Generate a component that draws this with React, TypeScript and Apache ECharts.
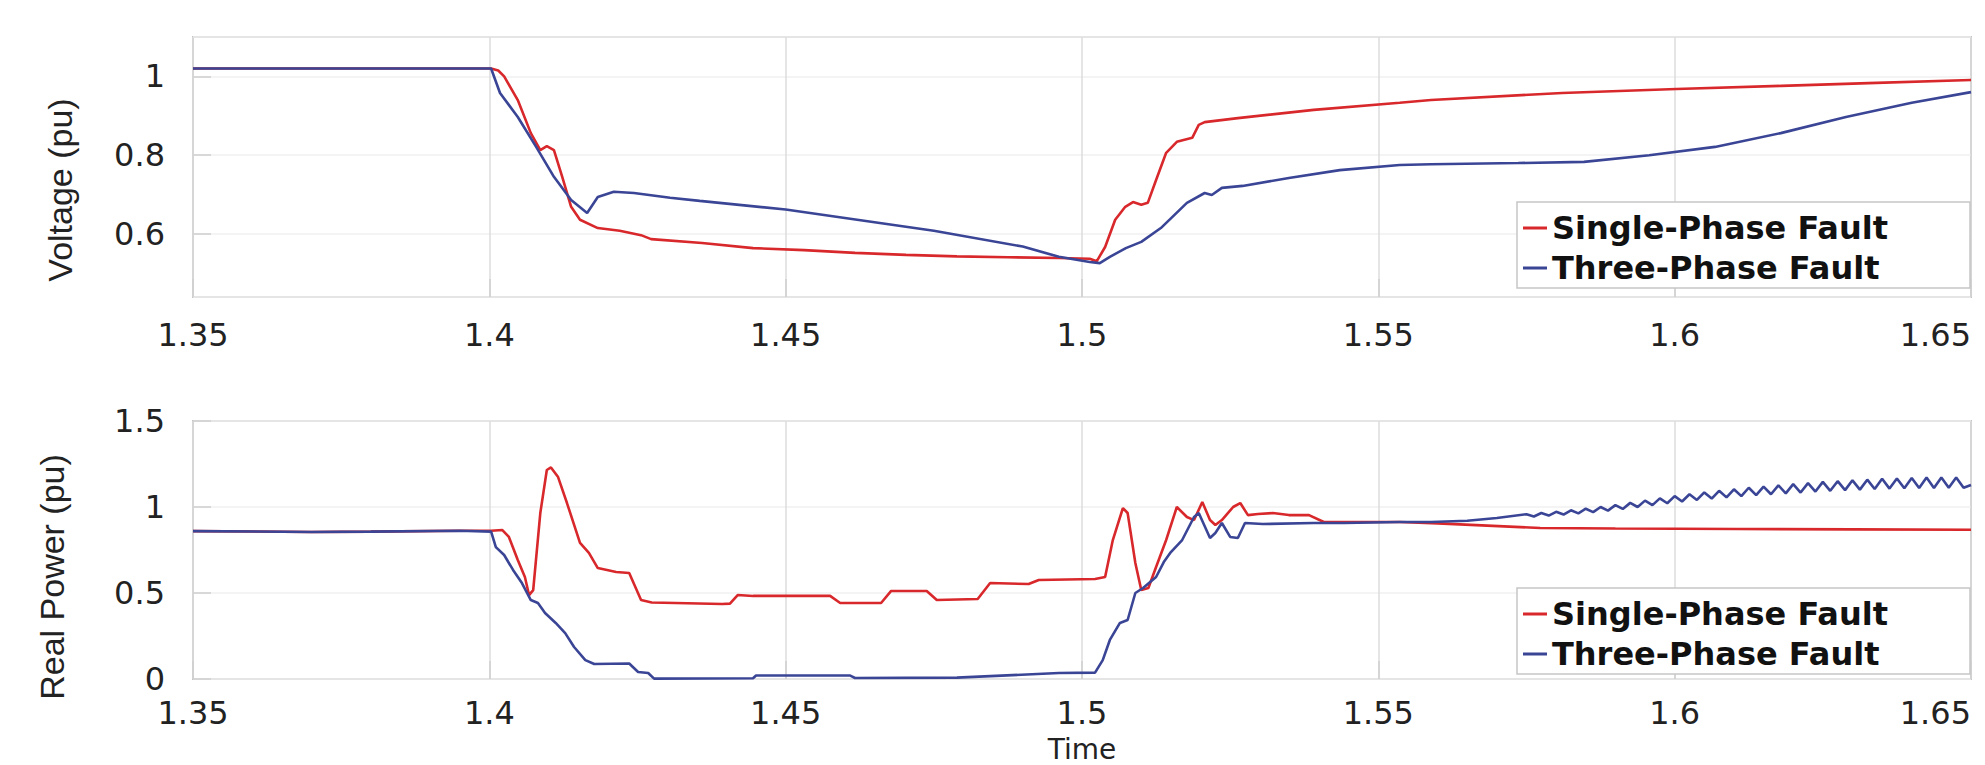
import React, { useEffect, useRef } from "react";
import * as echarts from "echarts";

const seriesNames = ["Single-Phase Fault", "Three-Phase Fault"];
const seriesColors = ["#d8282b", "#3a4596"];

// Voltage (pu) vs Time
const voltageSingle: [number, number][] = [
  [1.35, 1.02], [1.4003, 1.02], [1.4015, 1.015], [1.4025, 1.0], [1.4048, 0.94], [1.407, 0.856],
  [1.4086, 0.813], [1.4097, 0.823], [1.4109, 0.813], [1.4123, 0.745], [1.4138, 0.669], [1.4153, 0.636],
  [1.4183, 0.615], [1.422, 0.608], [1.4256, 0.597], [1.4273, 0.587], [1.4359, 0.577], [1.4445, 0.564],
  [1.4531, 0.559], [1.4617, 0.552], [1.4703, 0.547], [1.4789, 0.543], [1.4875, 0.541], [1.4961, 0.539],
  [1.5013, 0.537], [1.5025, 0.531], [1.5039, 0.567], [1.5056, 0.636], [1.5073, 0.669], [1.5086, 0.681],
  [1.51, 0.674], [1.5111, 0.679], [1.5125, 0.737], [1.5142, 0.806], [1.516, 0.834], [1.5186, 0.844],
  [1.5197, 0.877], [1.5207, 0.884], [1.5263, 0.894], [1.5391, 0.915], [1.5536, 0.933], [1.5589, 0.94],
  [1.581, 0.958], [1.6003, 0.968], [1.618, 0.976], [1.6327, 0.983], [1.65, 0.991],
];

const voltageThree: [number, number][] = [
  [1.35, 1.02], [1.4003, 1.02], [1.4018, 0.958], [1.4048, 0.897], [1.4079, 0.821], [1.4109, 0.745],
  [1.4138, 0.686], [1.4165, 0.653], [1.4183, 0.694], [1.421, 0.707], [1.4244, 0.704], [1.4305, 0.692],
  [1.4355, 0.684], [1.45, 0.662], [1.475, 0.608], [1.49, 0.568], [1.4961, 0.542], [1.5013, 0.529],
  [1.503, 0.526], [1.5047, 0.542], [1.5074, 0.564], [1.51, 0.58], [1.5133, 0.615], [1.5177, 0.679],
  [1.5207, 0.704], [1.5219, 0.699], [1.5236, 0.717], [1.5271, 0.722], [1.5349, 0.742], [1.5435, 0.762],
  [1.5536, 0.775], [1.5589, 0.777], [1.5736, 0.78], [1.5847, 0.783], [1.5957, 0.8], [1.6068, 0.821],
  [1.6179, 0.856], [1.6289, 0.897], [1.64, 0.933], [1.65, 0.96],
];

// Real Power (pu) vs Time
const powerSingle: [number, number][] = [
  [1.35, 0.86], [1.37, 0.855], [1.38, 0.857], [1.395, 0.862], [1.4003, 0.862], [1.4022, 0.866],
  [1.4033, 0.826], [1.4048, 0.692], [1.406, 0.593], [1.4067, 0.488], [1.4074, 0.517], [1.4086, 0.965],
  [1.4097, 1.215], [1.4104, 1.23], [1.4116, 1.174], [1.4131, 1.023], [1.4153, 0.791], [1.4168, 0.733],
  [1.4183, 0.645], [1.4214, 0.622], [1.4236, 0.616], [1.4256, 0.459], [1.4274, 0.445], [1.4393, 0.436],
  [1.4406, 0.438], [1.4419, 0.488], [1.4445, 0.483], [1.4575, 0.483], [1.4592, 0.442], [1.4661, 0.442],
  [1.4678, 0.512], [1.4738, 0.512], [1.4755, 0.459], [1.4824, 0.465], [1.4845, 0.558], [1.491, 0.552],
  [1.4927, 0.576], [1.5022, 0.581], [1.5039, 0.593], [1.5052, 0.808], [1.5069, 0.994], [1.5077, 0.965],
  [1.509, 0.674], [1.51, 0.517], [1.5112, 0.529], [1.5125, 0.651], [1.5142, 0.808], [1.516, 1.0],
  [1.5177, 0.942], [1.5189, 0.924], [1.5203, 1.029], [1.5216, 0.924], [1.5225, 0.895], [1.5236, 0.924],
  [1.5255, 1.0], [1.5267, 1.023], [1.528, 0.953], [1.5297, 0.959], [1.5322, 0.965], [1.5349, 0.953],
  [1.5383, 0.953], [1.5408, 0.913], [1.5536, 0.913], [1.56, 0.905], [1.5773, 0.878], [1.59, 0.875],
  [1.6105, 0.872], [1.63, 0.87], [1.65, 0.868],
];

const powerThree: [number, number][] = [
  [1.35, 0.86], [1.37, 0.855], [1.38, 0.857], [1.395, 0.862], [1.4003, 0.857], [1.4011, 0.767],
  [1.4025, 0.721], [1.404, 0.634], [1.4055, 0.558], [1.407, 0.459], [1.4082, 0.442], [1.4094, 0.384],
  [1.4112, 0.326], [1.4128, 0.267], [1.4143, 0.186], [1.4162, 0.11], [1.4177, 0.087], [1.4236, 0.09],
  [1.4251, 0.041], [1.4268, 0.035], [1.4278, 0.002], [1.4445, 0.004], [1.445, 0.02], [1.4609, 0.02],
  [1.4617, 0.006], [1.4789, 0.008], [1.4961, 0.035], [1.5022, 0.037], [1.5035, 0.11], [1.5047, 0.227],
  [1.5064, 0.326], [1.5077, 0.343], [1.509, 0.5], [1.5103, 0.529], [1.5125, 0.593], [1.5138, 0.68],
  [1.515, 0.738], [1.5169, 0.808], [1.5189, 0.942], [1.5197, 0.965], [1.5216, 0.82], [1.5225, 0.849],
  [1.5236, 0.907], [1.525, 0.826], [1.5263, 0.82], [1.5275, 0.907], [1.5305, 0.901], [1.5391, 0.907],
  [1.5442, 0.907], [1.5536, 0.913], [1.5589, 0.913], [1.565, 0.92], [1.57, 0.936],
  [1.575, 0.958], [1.57625, 0.945], [1.5775, 0.965], [1.57875, 0.95], [1.58, 0.972], [1.58125, 0.956],
  [1.5825, 0.981], [1.58375, 0.963], [1.585, 0.99], [1.58625, 0.97], [1.5875, 1.0], [1.58875, 0.979],
  [1.59, 1.011], [1.59125, 0.989], [1.5925, 1.024], [1.59375, 1.0], [1.595, 1.037], [1.59625, 1.011],
  [1.5975, 1.05], [1.59875, 1.022], [1.6, 1.063], [1.60125, 1.032], [1.6025, 1.074], [1.60375, 1.041],
  [1.605, 1.085], [1.60625, 1.049], [1.6075, 1.094], [1.60875, 1.056], [1.61, 1.103], [1.61125, 1.063],
  [1.6125, 1.112], [1.61375, 1.069], [1.615, 1.119], [1.61625, 1.074], [1.6175, 1.126], [1.61875, 1.079],
  [1.62, 1.133], [1.62125, 1.084], [1.6225, 1.139], [1.62375, 1.09], [1.625, 1.146], [1.62625, 1.094],
  [1.6275, 1.15], [1.62875, 1.098], [1.63, 1.155], [1.63125, 1.101], [1.6325, 1.159], [1.63375, 1.105],
  [1.635, 1.164], [1.63625, 1.107], [1.6375, 1.166], [1.63875, 1.109], [1.64, 1.169], [1.64125, 1.11],
  [1.6425, 1.171], [1.64375, 1.111], [1.645, 1.172], [1.64625, 1.112], [1.6475, 1.172], [1.64875, 1.112],
  [1.65, 1.128],
];

const timeMin = 1.35;
const timeMax = 1.65;
const timeStep = 0.05;
const voltageMin = 0.44;
const voltageMax = 1.1;
const powerMin = 0;
const powerMax = 1.5;
const powerStep = 0.5;

const tickFont = "DejaVu Sans";
const textColor = "#222222";

export default function App() {
  const ref = useRef<HTMLDivElement>(null);

  useEffect(() => {
    document.body.style.margin = "0";
    const chart = echarts.init(ref.current as HTMLDivElement, null, { renderer: "svg" });

    const xAxisBase = (gridIndex: number, labelMargin: number) => ({
      type: "value",
      gridIndex,
      min: timeMin,
      max: timeMax,
      interval: timeStep,
      axisLine: { show: false },
      axisTick: { show: true, inside: true, length: 18, lineStyle: { color: "#cfcfcf", width: 1.5 } },
      axisLabel: {
        fontFamily: tickFont,
        fontSize: 32,
        color: textColor,
        margin: labelMargin,
        alignMaxLabel: "right",
      },
      splitLine: { show: true, lineStyle: { color: "#dcdcdc", width: 1.5 } },
    });

    const yLabel = {
      fontFamily: tickFont,
      fontSize: 32,
      color: textColor,
      margin: 28,
      padding: [10, 0, 0, 0],
    };
    const yTick = { show: true, inside: true, length: 18, lineStyle: { color: "#cfcfcf", width: 1.5 } };
    const ySplit = { show: true, lineStyle: { color: "#f0f0f0", width: 1.5 } };
    const yName = {
      fontFamily: "Liberation Sans",
      fontSize: 34,
      color: textColor,
    };

    const legendBase = {
      data: seriesNames,
      orient: "vertical",
      left: 1517,
      icon: "rect",
      itemWidth: 24,
      itemHeight: 3,
      itemGap: 6,
      itemTextGap: 3,
      selectedMode: false,
      padding: [9, 82, 3, 6],
      borderColor: "#c6c6c6",
      borderWidth: 1.5,
      backgroundColor: "#ffffff",
      textStyle: {
        fontFamily: tickFont,
        fontWeight: "bold",
        fontSize: 32,
        color: "#111111",
        lineHeight: 34,
      },
    };

    const lineSeries = (name: string, color: string, data: [number, number][], idx: number) => ({
      name,
      type: "line",
      xAxisIndex: idx,
      yAxisIndex: idx,
      data,
      color,
      showSymbol: false,
      symbol: "none",
      lineStyle: { color, width: 2.6 },
      z: name === seriesNames[1] ? 3 : 2,
    });

    const gridBase = {
      left: 193,
      width: 1778,
      show: true,
      borderColor: "#c4c4c4",
      borderWidth: 2,
      backgroundColor: "transparent",
      containLabel: false,
      outerBoundsMode: "none",
    };

    chart.setOption({
      animation: false,
      backgroundColor: "#ffffff",
      grid: [
        { ...gridBase, top: 37, height: 260 },
        { ...gridBase, top: 421, height: 258 },
      ],
      legend: [
        { ...legendBase, top: 202 },
        { ...legendBase, top: 588 },
      ],
      xAxis: [
        xAxisBase(0, 22),
        {
          ...xAxisBase(1, 18),
          name: "Time",
          nameLocation: "middle",
          nameGap: 56,
          nameTextStyle: { fontFamily: tickFont, fontSize: 28, lineHeight: 29, color: textColor },
        },
      ],
      yAxis: [
        {
          type: "value",
          gridIndex: 0,
          min: voltageMin,
          max: voltageMax,
          splitNumber: 3,
          axisLine: { show: false },
          axisTick: yTick,
          axisLabel: { ...yLabel, showMinLabel: false, showMaxLabel: false },
          splitLine: ySplit,
          name: "Voltage (pu)",
          nameLocation: "middle",
          nameGap: 116,
          nameTextStyle: { ...yName, padding: [0, 46, 0, 0] },
        },
        {
          type: "value",
          gridIndex: 1,
          min: powerMin,
          max: powerMax,
          interval: powerStep,
          axisLine: { show: false },
          axisTick: yTick,
          axisLabel: yLabel,
          splitLine: ySplit,
          name: "Real Power (pu)",
          nameLocation: "middle",
          nameGap: 124,
          nameTextStyle: { ...yName, padding: [0, 54, 0, 0] },
        },
      ],
      series: [
        lineSeries(seriesNames[0], seriesColors[0], voltageSingle, 0),
        lineSeries(seriesNames[1], seriesColors[1], voltageThree, 0),
        lineSeries(seriesNames[0], seriesColors[0], powerSingle, 1),
        lineSeries(seriesNames[1], seriesColors[1], powerThree, 1),
      ],
    });

    return () => chart.dispose();
  }, []);

  return (
    <div
      ref={ref}
      style={{ position: "absolute", left: 0, top: 0, width: 1985, height: 765 }}
    />
  );
}
